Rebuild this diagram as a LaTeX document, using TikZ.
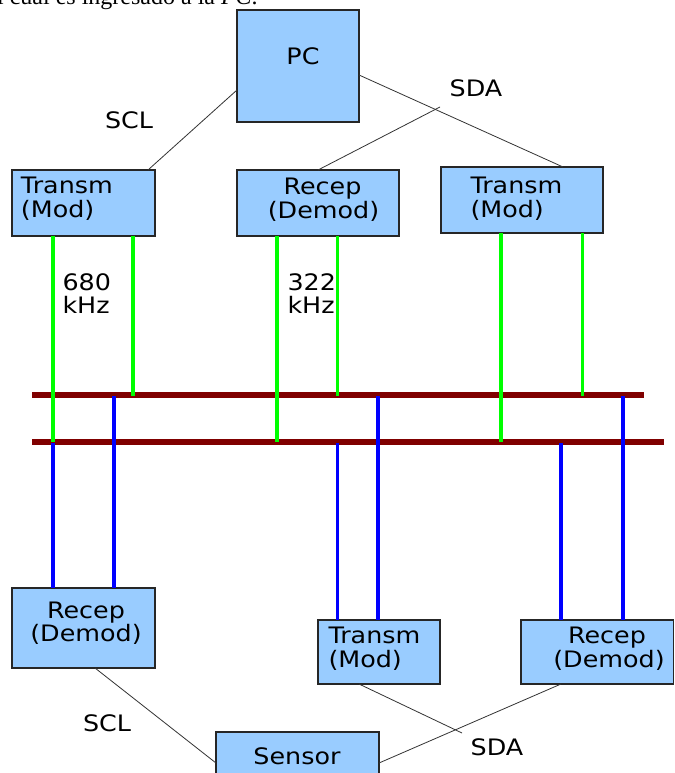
\documentclass[tikz,border=0pt]{standalone}
\usepackage{fontspec}
\setmainfont{DejaVu Sans}
\newfontfamily\bodyserif{Liberation Serif}
\definecolor{boxblue}{HTML}{99CCFF}
\definecolor{busred}{HTML}{800000}
\definecolor{grn}{HTML}{00FF00}
\definecolor{blu}{HTML}{0000FF}
\newcommand\stx[1]{\scalebox{1.12}[1]{#1}}
\begin{document}
\begin{tikzpicture}[x=0.75pt,y=-0.75pt,
  box/.style={draw=black!85, fill=boxblue, line width=0.8pt, inner sep=0pt, outer sep=0pt, anchor=north west},
  sz/.style 2 args={minimum width=#1*0.75pt, minimum height=#2*0.75pt},
  lbl/.style={inner sep=0pt, outer sep=0pt, font=\fontsize{17}{24}\selectfont},
  wire/.style={line width=0.6pt, draw=black!80},
  bus/.style={line width=4.6pt, draw=busred, line cap=butt},
  gline/.style={line width=2.8pt, draw=grn},
  bline/.style={line width=2.5pt, draw=blu}]
\useasboundingbox (0,0) rectangle (674,773);
\clip (0,0) rectangle (674,773);
\fill[white] (0,0) rectangle (674,773);

% clipped text line at the top
\node[inner sep=0pt, anchor=base east, font=\bodyserif\fontsize{18}{22}\selectfont] (topline) at (258,4.5) {el cual es ingresado a la \textit{PC}.};

% bus bars
\coordinate (ua) at (32,395);
\coordinate (ub) at (644,395);
\coordinate (la) at (32,442);
\coordinate (lb) at (664,442);
\draw[bus] (ua) -- (ub);
\draw[bus] (la) -- (lb);

% boxes
\node[box,sz={122}{112}] (pc) at (237,10) {};
\node[box,sz={143}{66}] (tl) at (12,170) {};
\node[box,sz={162}{66}] (tm) at (237,170) {};
\node[box,sz={162}{66}] (tr) at (441,167) {};
\node[box,sz={143}{80}] (bl) at (12,588) {};
\node[box,sz={122}{64}] (bm) at (318,620) {};
\node[box,sz={152.5}{64}] (br) at (521,620) {};
\node[box,sz={163}{60}] (sensor) at (216,732) {};

% green lines (upper modules to bus)
\draw[gline] (53,0 |- tl.south) -- (53,0 |- la);
\draw[gline] (133,0 |- tl.south) -- (133,396);
\draw[gline] (277,0 |- tm.south) -- (277,0 |- la);
\draw[gline] (337.5,0 |- tm.south) -- (337.5,396);
\draw[gline] (501,0 |- tr.south) -- (501,0 |- la);
\draw[gline] (582.5,0 |- tr.south) -- (582.5,396);

% blue lines (bus to lower modules)
\draw[bline] (53,443) -- (53,0 |- bl.north);
\draw[bline] (114,396) -- (114,0 |- bl.north);
\draw[bline] (337.5,443) -- (337.5,0 |- bm.north);
\draw[bline] (378,396) -- (378,0 |- bm.north);
\draw[bline] (561,443) -- (561,0 |- br.north);
\draw[bline] (623,396) -- (623,0 |- br.north);

% connectors
\coordinate (sdaX) at (440,107);
\coordinate (sdaY) at (462,733);
\draw[wire] (pc.west |- 0,90) -- (148,0 |- tl.north);
\draw[wire] (pc.east |- 0,75) -- (563,0 |- tr.north);
\draw[wire] (318,0 |- tm.north) -- (sdaX);
\draw[wire] (95,0 |- bl.south) -- (sensor.west |- 0,763);
\draw[wire] (359,0 |- bm.south) -- (sdaY);
\draw[wire] (sensor.east |- 0,763) -- (561,0 |- br.south);

% texts
\node[lbl, anchor=base] (pct) at (303,65) {\stx{PC}};
\node[lbl, anchor=base west] (tlA) at (21,194) {\stx{Transm}};
\node[lbl, anchor=base west] (tlB) at (21,218) {\stx{(Mod)}};
\node[lbl, anchor=base] (tmA) at (322.5,195) {\stx{Recep}};
\node[lbl, anchor=base] (tmB) at (323.5,219) {\stx{(Demod)}};
\node[lbl, anchor=base west] (trA) at (470.5,194) {\stx{Transm}};
\node[lbl, anchor=base west] (trB) at (470.5,218) {\stx{(Mod)}};
\node[lbl, anchor=base] (blA) at (86,618) {\stx{Recep}};
\node[lbl, anchor=base] (blB) at (86,641) {\stx{(Demod)}};
\node[lbl, anchor=base west] (bmA) at (328.5,643) {\stx{Transm}};
\node[lbl, anchor=base west] (bmB) at (328.5,667) {\stx{(Mod)}};
\node[lbl, anchor=base] (brA) at (607,643) {\stx{Recep}};
\node[lbl, anchor=base] (brB) at (609,667) {\stx{(Demod)}};
\node[lbl, anchor=base] (sent) at (297,764) {\stx{Sensor}};
\node[lbl, anchor=base] (sclA) at (129,129) {\stx{SCL}};
\node[lbl, anchor=base] (sdaA) at (476,97) {\stx{SDA}};
\node[lbl, anchor=base] (sclB) at (107,731) {\stx{SCL}};
\node[lbl, anchor=base] (sdaB) at (497,755) {\stx{SDA}};
\node[lbl, anchor=base west] (fa) at (62.5,290) {\stx{680}};
\node[lbl, anchor=base west] (fb) at (62.5,313) {\stx{kHz}};
\node[lbl, anchor=base west] (fc) at (287.5,290) {\stx{322}};
\node[lbl, anchor=base west] (fd) at (287.5,313) {\stx{kHz}};
\end{tikzpicture}
\end{document}
